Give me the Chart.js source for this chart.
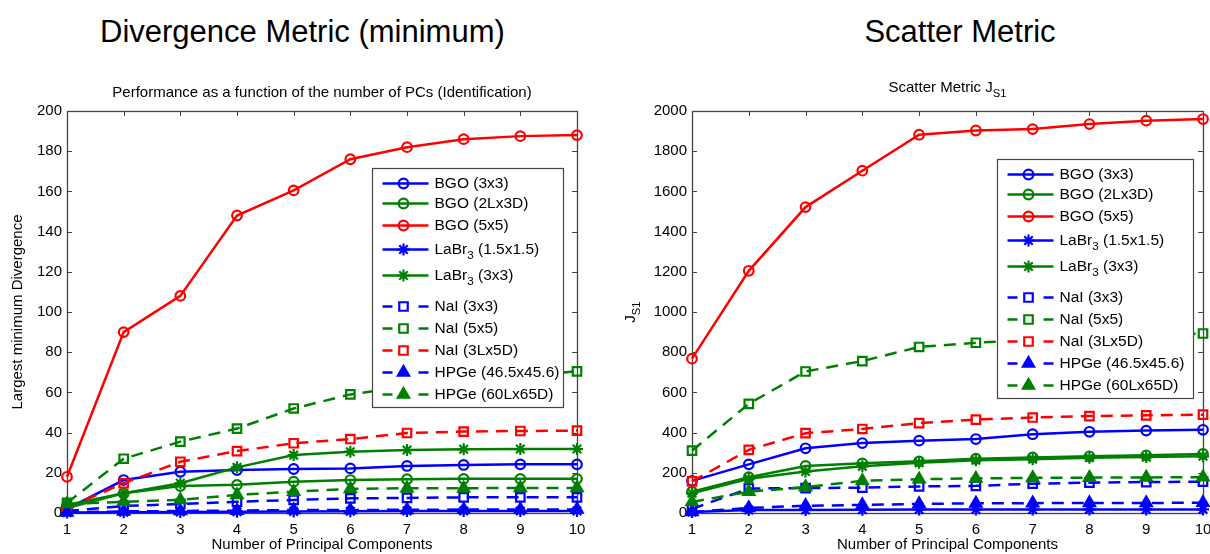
<!DOCTYPE html>
<html>
<head>
<meta charset="utf-8">
<title>Divergence and scatter metrics vs. number of PCs</title>
<script src="https://cdn.jsdelivr.net/npm/chart.js@4.4.0/dist/chart.umd.min.js"></script>
<style>
  html, body { margin: 0; padding: 0; background: #fff; overflow: hidden; }
  body { width: 1210px; height: 554px; position: relative; font-family: 'Liberation Sans', Arial, Helvetica, sans-serif; }
  .heading { position: absolute; top: 14px; font-size: 31px; line-height: 36px; color: #000; text-align: center; white-space: nowrap; }
  .panel { position: absolute; top: 0; }
</style>
</head>
<body>
<div class="heading" style="left:100px;width:400px">Divergence Metric (minimum)</div>
<div class="heading" style="left:760px;width:400px">Scatter Metric</div>
<div class="panel" style="left:0"><canvas id="divergence" width="600" height="554"></canvas></div>
<div class="panel" style="left:600px"><canvas id="scatter" width="630" height="554"></canvas></div>

<script>
// ---- data ---------------------------------------------------------------
const components = [1, 2, 3, 4, 5, 6, 7, 8, 9, 10];

const seriesLabels = ['BGO (3x3)', 'BGO (2Lx3D)', 'BGO (5x5)', 'LaBr_{3} (1.5x1.5)', 'LaBr_{3} (3x3)',
                      'NaI (3x3)', 'NaI (5x5)', 'NaI (3Lx5D)', 'HPGe (46.5x45.6)', 'HPGe (60Lx65D)'];
const seriesColors = ['#0000ff', '#008000', '#ff0000', '#0000ff', '#008000',
                      '#0000ff', '#008000', '#ff0000', '#0000ff', '#008000'];
const seriesMarkers = ['circle', 'circle', 'circle', 'star', 'star', 'rect', 'rect', 'rect', 'triangle', 'triangle'];
const seriesDashed = [false, false, false, false, false, true, true, true, true, true];

// largest minimum divergence
const divBgo3x3  = [2, 16.4, 20.5, 21.4, 21.9, 22.2, 23.4, 23.9, 24.2, 24.2];
const divBgo2L3D = [2.5, 9.8, 13.4, 14, 15.6, 16.4, 16.8, 17, 17, 17];
const divBgo5x5  = [18, 90, 108, 148, 160.5, 176, 182, 186, 187.5, 188];
const divLabr15  = [0.2, 0.4, 0.5, 0.6, 0.8, 0.9, 1, 1, 1, 1];
const divLabr3x3 = [4, 9.8, 14.8, 22.7, 28.8, 30.5, 31.3, 31.7, 31.8, 31.8];
const divNai3x3  = [1, 3.5, 4.5, 5.6, 6.5, 7.3, 7.5, 7.8, 7.8, 7.8];
const divNai5x5  = [5, 27, 35.5, 42, 52, 59, 63, 66, 68, 70.5];
const divNai3L5D = [2.5, 14.8, 25.5, 30.8, 34.7, 36.8, 39.8, 40.5, 40.8, 41];
const divHpge465 = [0.3, 0.8, 1, 1.2, 1.5, 1.5, 1.6, 1.7, 1.7, 1.8];
const divHpge60L = [4.5, 5.6, 6.5, 9, 10.6, 12, 12.3, 12.3, 12.5, 12.5];

// scatter metric J_S1
const scBgo3x3  = [160, 242, 322, 348, 360, 368, 392, 404, 410, 414];
const scBgo2L3D = [106, 178, 234, 247, 257, 270, 276, 282, 287, 294];
const scBgo5x5  = [768, 1205, 1522, 1703, 1882, 1903, 1910, 1935, 1952, 1960];
const scLabr15  = [5, 15, 15, 16, 17, 17, 17, 18, 18, 18];
const scLabr3x3 = [98, 170, 206, 232, 250, 262, 268, 275, 278, 282];
const scNai3x3  = [20, 122, 124, 126, 132, 135, 146, 151, 154, 156];
const scNai5x5  = [310, 543, 704, 756, 826, 847, 862, 874, 884, 893];
const scNai3L5D = [157, 314, 397, 418, 447, 465, 475, 482, 486, 489];
const scHpge465 = [5, 25, 36, 40, 45, 48, 49, 50, 50, 51];
const scHpge60L = [55, 106, 129, 160, 168, 172, 175, 176, 177, 178];

// ---- styling ------------------------------------------------------------
const FONT = "'Liberation Sans', Arial, Helvetica, sans-serif";
const TEXT = 15;
const LEGEND_TEXT = 15.5;
const LINE_W = 2.5;
const MARK_W = 2.2;
const DASH = [12, 8];
const markerRadius = { circle: 4.8, rect: 6, triangle: 6.5, star: 6 };
const legendRows = [15, 35, 57, 81, 107, 138, 160, 182, 204, 226];
const LEGEND_H = 239;

// "LaBr_{3}" -> [{text:'LaBr'}, {text:'3', sub:true}]
function parseRuns(str) {
  const runs = [];
  const re = /_\{([^}]*)\}/g;
  let last = 0, m;
  while ((m = re.exec(str))) {
    if (m.index > last) runs.push({ text: str.slice(last, m.index), sub: false });
    runs.push({ text: m[1], sub: true });
    last = re.lastIndex;
  }
  if (last < str.length) runs.push({ text: str.slice(last), sub: false });
  return runs;
}
const plainLabel = s => s.replace(/_\{([^}]*)\}/g, '$1');

function runsWidth(ctx, runs, size) {
  let w = 0;
  runs.forEach(r => {
    ctx.font = `${r.sub ? size * 0.75 : size}px ${FONT}`;
    w += ctx.measureText(r.text).width;
  });
  return w;
}

// left aligned at x, y = middle of the main text
function drawRuns(ctx, runs, x, y, size) {
  ctx.textBaseline = 'middle';
  ctx.textAlign = 'left';
  ctx.fillStyle = '#000';
  runs.forEach(r => {
    const s = r.sub ? size * 0.75 : size;
    ctx.font = `${s}px ${FONT}`;
    ctx.fillText(r.text, x, r.sub ? y + size * 0.38 : y);
    x += ctx.measureText(r.text).width;
  });
}

// same geometry as the Chart.js point styles
function drawMarker(ctx, style, x, y, r, color) {
  ctx.save();
  ctx.setLineDash([]);
  ctx.strokeStyle = color;
  ctx.fillStyle = color;
  ctx.lineWidth = MARK_W;
  ctx.beginPath();
  if (style === 'circle') {
    ctx.arc(x, y, r, 0, Math.PI * 2);
  } else if (style === 'rect') {
    const s = r / Math.SQRT2;
    ctx.rect(x - s, y - s, 2 * s, 2 * s);
  } else if (style === 'triangle') {
    let a = 0;
    ctx.moveTo(x + Math.sin(a) * r, y - Math.cos(a) * r);
    a += Math.PI * 2 / 3;
    ctx.lineTo(x + Math.sin(a) * r, y - Math.cos(a) * r);
    a += Math.PI * 2 / 3;
    ctx.lineTo(x + Math.sin(a) * r, y - Math.cos(a) * r);
    ctx.closePath();
    ctx.fill();
  } else if (style === 'star') {
    for (let k = 0; k < 4; k++) {
      const a = k * Math.PI / 4;
      ctx.moveTo(x - Math.cos(a) * r, y - Math.sin(a) * r);
      ctx.lineTo(x + Math.cos(a) * r, y + Math.sin(a) * r);
    }
  }
  ctx.stroke();
  ctx.restore();
}

// boxed axes with inward ticks, inset legend and subscripted captions
const matlabAxes = {
  id: 'matlabAxes',
  beforeDatasetsDraw(chart) {
    const { ctx, chartArea: a, scales: { x, y } } = chart;
    const t = 5;
    ctx.save();
    ctx.strokeStyle = '#444';
    ctx.lineWidth = 1;
    ctx.beginPath();
    x.ticks.forEach(tk => {
      const px = Math.round(x.getPixelForValue(tk.value)) + 0.5;
      ctx.moveTo(px, a.bottom); ctx.lineTo(px, a.bottom - t);
      ctx.moveTo(px, a.top); ctx.lineTo(px, a.top + t);
    });
    y.ticks.forEach(tk => {
      const py = Math.round(y.getPixelForValue(tk.value)) + 0.5;
      ctx.moveTo(a.left, py); ctx.lineTo(a.left + t, py);
      ctx.moveTo(a.right, py); ctx.lineTo(a.right - t, py);
    });
    ctx.stroke();
    ctx.lineWidth = 1.3;
    ctx.strokeRect(Math.round(a.left) + 0.5, Math.round(a.top) + 0.5,
                   Math.round(a.width), Math.round(a.height));
    ctx.restore();
  },
  afterDraw(chart, args, opts) {
    const { ctx, chartArea: a } = chart;
    ctx.save();

    // caption above the axes
    const head = parseRuns(opts.caption);
    const hw = runsWidth(ctx, head, TEXT);
    drawRuns(ctx, head, (a.left + a.right) / 2 - hw / 2, opts.captionY, TEXT);

    // rotated y title when it needs a subscript
    if (opts.yTitle) {
      const runs = parseRuns(opts.yTitle);
      const w = runsWidth(ctx, runs, TEXT);
      ctx.save();
      ctx.translate(opts.yTitleX, (a.top + a.bottom) / 2);
      ctx.rotate(-Math.PI / 2);
      drawRuns(ctx, runs, -w / 2, 0, TEXT);
      ctx.restore();
    }

    // legend box
    const lg = opts.legend;
    const bx = Math.round(a.right - lg.right - lg.width) + 0.5;
    const by = Math.round(a.top + lg.top) + 0.5;
    ctx.fillStyle = '#fff';
    ctx.fillRect(bx, by, lg.width, LEGEND_H);
    ctx.strokeStyle = '#444';
    ctx.lineWidth = 1.2;
    ctx.strokeRect(bx, by, lg.width, LEGEND_H);

    seriesLabels.forEach((label, i) => {
      const ly = by + legendRows[i];
      const color = seriesColors[i];
      ctx.strokeStyle = color;
      ctx.lineWidth = LINE_W;
      ctx.beginPath();
      if (seriesDashed[i]) {
        ctx.moveTo(bx + 10, ly); ctx.lineTo(bx + 20, ly);
        ctx.moveTo(bx + 46, ly); ctx.lineTo(bx + 56, ly);
      } else {
        ctx.moveTo(bx + 10, ly); ctx.lineTo(bx + 56, ly);
      }
      ctx.stroke();
      drawMarker(ctx, seriesMarkers[i], bx + 31, ly, markerRadius[seriesMarkers[i]], color);
      drawRuns(ctx, parseRuns(label), bx + 62, ly, LEGEND_TEXT);
    });
    ctx.restore();
  }
};

function buildDatasets(values) {
  return values.map((vals, i) => ({
    label: plainLabel(seriesLabels[i]),
    data: components.map((c, k) => ({ x: c, y: vals[k] })),
    borderColor: seriesColors[i],
    backgroundColor: seriesColors[i],
    borderWidth: LINE_W,
    borderDash: seriesDashed[i] ? DASH : [],
    pointStyle: seriesMarkers[i],
    pointRadius: markerRadius[seriesMarkers[i]],
    pointBorderWidth: MARK_W,
    pointBorderColor: seriesColors[i],
    pointBackgroundColor: seriesMarkers[i] === 'triangle' ? seriesColors[i] : 'rgba(0,0,0,0)',
    tension: 0,
    clip: false,
    order: values.length - i   // later series drawn on top
  }));
}

function makeChart(id, values, cfg) {
  const tickFont = { family: FONT, size: TEXT };
  return new Chart(document.getElementById(id), {
    type: 'line',
    data: { datasets: buildDatasets(values) },
    options: {
      responsive: false,
      animation: false,
      events: [],
      layout: { padding: { top: 111, right: cfg.padRight, left: 0, bottom: 0 } },
      scales: {
        x: {
          type: 'linear', min: 1, max: 10,
          afterFit: s => { s.height = 41; },
          grid: { display: false, drawTicks: false },
          border: { display: false },
          ticks: { stepSize: 1, padding: 8, color: '#000', font: tickFont },
          title: { display: true, text: 'Number of Principal Components', color: '#000',
                   font: tickFont, padding: { top: 0, bottom: 0 } }
        },
        y: {
          min: 0, max: cfg.yMax,
          afterFit: s => { s.width = cfg.axisWidth; },
          grid: { display: false, drawTicks: false },
          border: { display: false },
          ticks: { stepSize: cfg.yStep, padding: 5, color: '#000', font: tickFont, callback: v => String(v) },
          title: cfg.yText
            ? { display: true, text: cfg.yText, color: '#000', font: tickFont, padding: { top: 9, bottom: 0 } }
            : { display: false }
        }
      },
      plugins: {
        legend: { display: false },
        tooltip: { enabled: false },
        matlabAxes: cfg.extra
      }
    },
    plugins: [matlabAxes]
  });
}

makeChart('divergence',
  [divBgo3x3, divBgo2L3D, divBgo5x5, divLabr15, divLabr3x3, divNai3x3, divNai5x5, divNai3L5D, divHpge465, divHpge60L],
  {
    yMax: 200, yStep: 20, axisWidth: 67, padRight: 23,
    yText: 'Largest minimum Divergence',
    extra: {
      caption: 'Performance as a function of the number of PCs (Identification)', captionY: 93,
      legend: { right: 14, top: 57, width: 191 }
    }
  });

makeChart('scatter',
  [scBgo3x3, scBgo2L3D, scBgo5x5, scLabr15, scLabr3x3, scNai3x3, scNai5x5, scNai3L5D, scHpge465, scHpge60L],
  {
    yMax: 2000, yStep: 200, axisWidth: 92, padRight: 27,
    extra: {
      caption: 'Scatter Metric J_{S1}', captionY: 88,
      yTitle: 'J_{S1}', yTitleX: 31,
      legend: { right: 10, top: 48, width: 196 }
    }
  });
</script>
</body>
</html>
